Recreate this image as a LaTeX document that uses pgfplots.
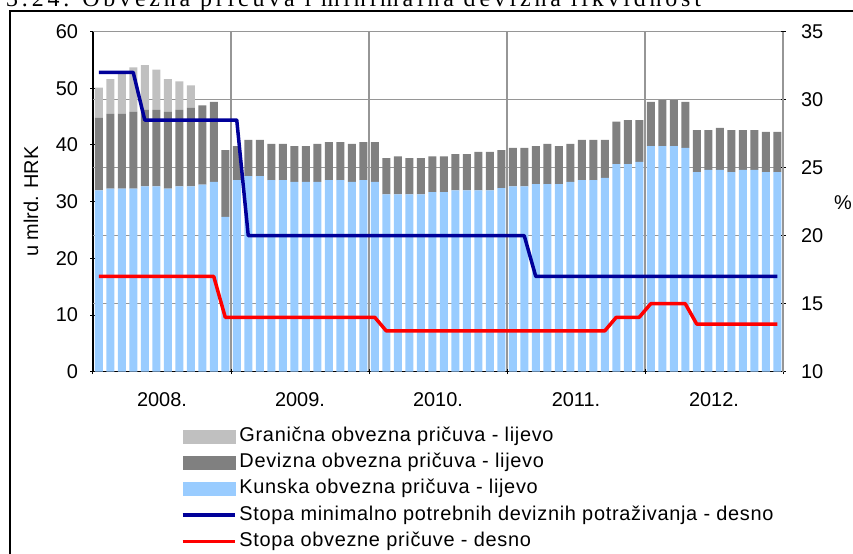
\documentclass[border=0pt]{standalone}
\usepackage{pgfplots}
\usepackage{pgfplotstable}
\pgfplotsset{compat=1.18}
\usepackage{fontspec}
\setmainfont{Liberation Sans}
\newfontfamily\titlefont[LetterSpace=16]{Liberation Serif}
\newfontfamily\legfont[LetterSpace=3.5]{Liberation Sans}

\definecolor{kuna}{HTML}{99CCFF}
\definecolor{dev}{HTML}{808080}
\definecolor{gran}{HTML}{C0C0C0}
\definecolor{navyline}{HTML}{000099}
\definecolor{gridc}{HTML}{969696}

\pgfplotstableread{
m kun dev gran
1 32.0 12.8 5.3
2 32.3 13.2 6.1
3 32.3 13.2 7.1
4 32.3 13.6 7.8
5 32.7 13.5 7.9
6 32.7 13.5 7.1
7 32.3 13.6 5.7
8 32.7 13.5 5.0
9 32.7 13.9 3.9
10 33.0 14.0 0
11 33.5 14.1 0
12 27.3 11.8 0
13 33.8 6.0 0
14 34.5 6.4 0
15 34.5 6.4 0
16 33.8 6.4 0
17 33.8 6.4 0
18 33.5 6.3 0
19 33.5 6.3 0
20 33.5 6.7 0
21 33.8 6.7 0
22 33.8 6.7 0
23 33.5 6.7 0
24 33.8 6.7 0
25 33.5 7.0 0
26 31.3 6.4 0
27 31.3 6.7 0
28 31.3 6.4 0
29 31.3 6.4 0
30 31.7 6.3 0
31 31.7 6.3 0
32 32.0 6.4 0
33 32.0 6.4 0
34 32.0 6.8 0
35 32.0 6.8 0
36 32.4 6.7 0
37 32.7 6.8 0
38 32.7 6.8 0
39 33.1 6.7 0
40 33.1 7.1 0
41 33.1 6.7 0
42 33.5 6.7 0
43 33.8 7.1 0
44 33.8 7.1 0
45 34.2 6.7 0
46 36.6 7.5 0
47 36.6 7.8 0
48 37.0 7.4 0
49 39.8 7.8 0
50 39.8 8.1 0
51 39.8 8.1 0
52 39.5 8.1 0
53 35.2 7.4 0
54 35.6 7.0 0
55 35.6 7.4 0
56 35.2 7.4 0
57 35.6 7.0 0
58 35.6 7.0 0
59 35.2 7.1 0
60 35.2 7.1 0
}\bars

\pgfplotstableread{
m blue red
1 32 17
2 32 17
3 32 17
4 32 17
5 28.5 17
6 28.5 17
7 28.5 17
8 28.5 17
9 28.5 17
10 28.5 17
11 28.5 17
12 28.5 14
13 28.5 14
14 20 14
15 20 14
16 20 14
17 20 14
18 20 14
19 20 14
20 20 14
21 20 14
22 20 14
23 20 14
24 20 14
25 20 14
26 20 13
27 20 13
28 20 13
29 20 13
30 20 13
31 20 13
32 20 13
33 20 13
34 20 13
35 20 13
36 20 13
37 20 13
38 20 13
39 17 13
40 17 13
41 17 13
42 17 13
43 17 13
44 17 13
45 17 13
46 17 14
47 17 14
48 17 14
49 17 15
50 17 15
51 17 15
52 17 15
53 17 13.5
54 17 13.5
55 17 13.5
56 17 13.5
57 17 13.5
58 17 13.5
59 17 13.5
60 17 13.5
}\rates

\begin{document}
\begin{tikzpicture}
\pgfplotsset{
  every axis/.append style={
    at={(93bp,182.3bp)}, anchor=south west, scale only axis,
    width=690bp, height=340.1bp,
    xmin=0.5, xmax=60.5,
    /pgf/number format/assume math mode=true,
    tick label style={font=\fontsize{20}{24}\selectfont},
    label style={font=\fontsize{20}{24}\selectfont},
    major tick length=5bp, tick align=outside,
    tick style={black, line width=1bp},
  }
}
\begin{axis}[
  ymin=0, ymax=60,
  axis x line=bottom, axis y line=left,
  axis line style={-, black, line width=1.4bp},
  ybar stacked, bar width=8bp,
  xtick={0.5,12.5,24.5,36.5,48.5,60.5}, xticklabels={},
  xmajorgrids,
  extra x ticks={6.5,18.5,30.5,42.5,54.5},
  extra x tick labels={2008.,2009.,2010.,2011.,2012.},
  extra x tick style={grid=none, major tick length=0pt, xticklabel style={yshift=-17bp}},
  ytick={0,10,...,60},
  yticklabel style={xshift=-9bp},
  extra y ticks={12,24,36,48,60}, extra y tick labels={},
  extra y tick style={grid=major, major tick length=0pt},
  grid style={gridc, line width=1.3bp},
  ylabel={u mlrd. HRK},
  ylabel style={at={(axis description cs:-0.09,0.5)}, anchor=center},
]
\addplot[fill=kuna, draw=none] table[x=m, y=kun] {\bars};
\addplot[fill=dev, draw=none] table[x=m, y=dev] {\bars};
\addplot[fill=gran, draw=none] table[x=m, y=gran] {\bars};
\end{axis}
\begin{axis}[
  ymin=10, ymax=35,
  axis x line=none, axis y line=right,
  axis line style={-, gridc, line width=1.3bp},
  ytick={10,15,...,35},
  yticklabel style={xshift=12bp},
  ylabel={\fontsize{20}{24}\selectfont\%},
  ylabel style={rotate=-90, at={(axis description cs:1.087,0.496)}, anchor=center, font=\fontsize{20}{24}\selectfont},
  legend image code/.code={\draw[#1] (0bp,0bp) -- (52bp,0bp);},
  legend cell align=left,
  legend style={at={(axis description cs:0.1275,-0.164)}, anchor=north west,
    draw=none, fill=none, inner sep=0pt, outer sep=0pt,
    font=\legfont\fontsize{20}{24}\selectfont,
    row sep=8.2bp, column sep=3bp,
    nodes={inner sep=0pt, text height=14bp, text depth=4bp}},
]
\addlegendimage{legend image code/.code={\fill[gran] (0bp,-6.3bp) rectangle (52bp,6.3bp);}}
\addlegendentry{Granična obvezna pričuva - lijevo}
\addlegendimage{legend image code/.code={\fill[dev] (0bp,-6.3bp) rectangle (52bp,6.3bp);}}
\addlegendentry{Devizna obvezna pričuva - lijevo}
\addlegendimage{legend image code/.code={\fill[kuna] (0bp,-6.3bp) rectangle (52bp,6.3bp);}}
\addlegendentry{Kunska obvezna pričuva - lijevo}
\addplot[navyline, line width=3.5bp, mark=none, line join=round] table[x=m, y=blue] {\rates};
\addlegendentry{Stopa minimalno potrebnih deviznih potraživanja - desno}
\addplot[red, line width=3.5bp, mark=none, line join=round] table[x=m, y=red] {\rates};
\addlegendentry{Stopa obvezne pričuve - desno}
\end{axis}
\node[anchor=base west, font=\titlefont\fontsize{24}{26}\selectfont, inner sep=0pt] at (6bp,547.5bp) {3.24. Obvezna pričuva i minimalna devizna likvidnost};
\draw[line width=2bp] (9.5bp,-10bp) -- (9.5bp,542.5bp) -- (880bp,542.5bp);
\pgfresetboundingbox
\useasboundingbox (0,0) rectangle (853bp,554bp);
\end{tikzpicture}
\end{document}
